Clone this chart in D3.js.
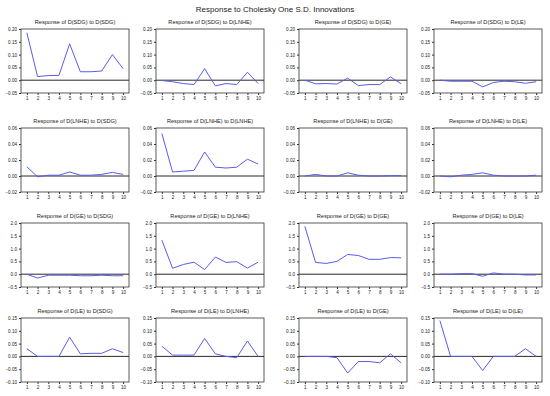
<!DOCTYPE html>
<html>
<head>
<meta charset="utf-8">
<script src="https://cdn.jsdelivr.net/npm/d3@7"></script>
<style>
  body { margin: 0; background: #fff; }
  svg text { font-family: Arial, "Liberation Sans", sans-serif; fill: #222; }
</style>
</head>
<body>
<div id="chart"></div>
<script>
// variables in Cholesky ordering
const vars = ["SDG", "LNHE", "GE", "LE"];
const periods = [1, 2, 3, 4, 5, 6, 7, 8, 9, 10];

// y axis domain and ticks per response row
const rowDomains = [[-0.05, 0.20], [-0.02, 0.06], [-0.5, 2.0], [-0.10, 0.15]];
const rowTicks = [
  [-0.05, 0.00, 0.05, 0.10, 0.15, 0.20],
  [-0.02, 0.00, 0.02, 0.04, 0.06],
  [-0.5, 0.0, 0.5, 1.0, 1.5, 2.0],
  [-0.10, -0.05, 0.00, 0.05, 0.10, 0.15]
];
const rowFormats = [".2f", ".2f", ".1f", ".2f"];

// responses of D(SDG)
const sdgToSdg  = [0.185, 0.014, 0.018, 0.019, 0.142, 0.033, 0.033, 0.036, 0.100, 0.045];
const sdgToLnhe = [-0.001, -0.006, -0.013, -0.017, 0.045, -0.022, -0.013, -0.017, 0.031, -0.013];
const sdgToGe   = [0.000, -0.014, -0.013, -0.015, 0.008, -0.021, -0.017, -0.017, 0.013, -0.014];
const sdgToLe   = [0.000, -0.004, -0.004, -0.004, -0.026, -0.009, -0.004, -0.006, -0.012, -0.006];

// responses of D(LNHE)
const lnheToSdg  = [0.0115, -0.001, 0.001, 0.001, 0.005, 0.001, 0.001, 0.002, 0.0045, 0.002];
const lnheToLnhe = [0.053, 0.005, 0.006, 0.007, 0.030, 0.011, 0.010, 0.011, 0.021, 0.015];
const lnheToGe   = [0.000, 0.002, 0.000, 0.000, 0.004, 0.001, 0.000, 0.000, 0.0005, 0.0005];
const lnheToLe   = [0.000, -0.001, 0.001, 0.002, 0.004, 0.001, 0.000, 0.000, 0.000, 0.001];

// responses of D(GE)
const geToSdg  = [0.00, -0.15, -0.04, -0.04, -0.04, -0.06, -0.06, -0.04, -0.06, -0.06];
const geToLnhe = [1.33, 0.23, 0.38, 0.47, 0.18, 0.67, 0.46, 0.49, 0.24, 0.47];
const geToGe   = [1.87, 0.46, 0.42, 0.50, 0.77, 0.73, 0.58, 0.58, 0.65, 0.64];
const geToLe   = [0.00, 0.00, 0.02, 0.02, -0.08, 0.05, 0.00, 0.00, -0.03, -0.03];

// responses of D(LE)
const leToSdg  = [0.030, 0.000, 0.000, 0.000, 0.075, 0.010, 0.012, 0.012, 0.030, 0.015];
const leToLnhe = [0.040, 0.005, 0.005, 0.005, 0.070, 0.010, 0.000, -0.005, 0.060, 0.000];
const leToGe   = [0.000, 0.000, 0.000, -0.005, -0.065, -0.020, -0.020, -0.025, 0.010, -0.025];
const leToLe   = [0.140, 0.000, 0.000, 0.000, -0.055, 0.000, 0.000, 0.000, 0.030, 0.000];

const responses = [
  [sdgToSdg, sdgToLnhe, sdgToGe, sdgToLe],
  [lnheToSdg, lnheToLnhe, lnheToGe, lnheToLe],
  [geToSdg, geToLnhe, geToGe, geToLe],
  [leToSdg, leToLnhe, leToGe, leToLe]
];

const width = 550, height = 396;
const colLeft = [21, 156, 299, 434];
const rowTop = [29, 128, 223, 318];
const panelW = 108, panelH = 64;

const svg = d3.select("#chart").append("svg")
    .attr("width", width)
    .attr("height", height);

// overall title
svg.append("text")
    .attr("x", width / 2)
    .attr("y", 12)
    .attr("text-anchor", "middle")
    .attr("font-size", "8px")
    .text("Response to Cholesky One S.D. Innovations");

const x = d3.scaleLinear().domain([0.45, 10.55]).range([0, panelW]);

responses.forEach((row, r) => {
  const y = d3.scaleLinear().domain(rowDomains[r]).range([panelH, 0]);
  row.forEach((vals, c) => {
    const g = svg.append("g")
        .attr("transform", `translate(${colLeft[c]},${rowTop[r]})`);

    // panel title
    g.append("text")
        .attr("x", panelW / 2)
        .attr("y", -5)
        .attr("text-anchor", "middle")
        .attr("font-size", "5.6px")
        .text(`Response of D(${vars[r]}) to D(${vars[c]})`);

    // axes
    const yAxis = d3.axisLeft(y).tickValues(rowTicks[r])
        .tickFormat(d3.format(rowFormats[r])).tickSize(2).tickPadding(2);
    const xAxis = d3.axisBottom(x).tickValues(periods).tickSize(2).tickPadding(2);

    g.append("g").call(yAxis)
        .call(a => a.select(".domain").remove())
        .call(a => a.selectAll("text").attr("font-size", "4.6px"))
        .call(a => a.selectAll("line").attr("stroke", "#333"));
    g.append("g").attr("transform", `translate(0,${panelH})`).call(xAxis)
        .call(a => a.select(".domain").remove())
        .call(a => a.selectAll("text").attr("font-size", "4.6px"))
        .call(a => a.selectAll("line").attr("stroke", "#333"));

    // zero line
    g.append("line")
        .attr("x1", 0).attr("x2", panelW)
        .attr("y1", y(0)).attr("y2", y(0))
        .attr("stroke", "#111")
        .attr("stroke-width", 0.9);

    // response line
    const line = d3.line()
        .x((d, i) => x(periods[i]))
        .y(d => y(d));
    g.append("path")
        .datum(vals)
        .attr("fill", "none")
        .attr("stroke", "#5b5bea")
        .attr("stroke-width", 1)
        .attr("d", line);

    // frame
    g.append("rect")
        .attr("width", panelW)
        .attr("height", panelH)
        .attr("fill", "none")
        .attr("stroke", "#333")
        .attr("stroke-width", 0.8);
  });
});
</script>
</body>
</html>
